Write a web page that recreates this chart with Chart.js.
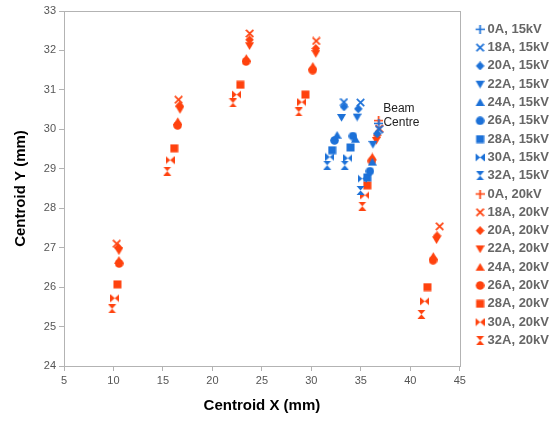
<!DOCTYPE html>
<html lang="en">
<head>
<meta charset="UTF-8">
<title>Beam centroid</title>
<script src="https://cdn.jsdelivr.net/npm/chart.js"></script>
<style>
  html, body { margin: 0; padding: 0; background: #fff; }
  #wrap { width: 557px; height: 421px; }
</style>
</head>
<body>
<div id="wrap"><canvas id="chart"></canvas></div>
<script>
// magnet currents, one series per current and voltage
const currents = ['0A', '18A', '20A', '22A', '24A', '26A', '28A', '30A', '32A'];

// 15kV: 0A is the beam centre, the rest have three positions
const x15 = [
  [36.83],
  [33.29, 34.97, 36.85],
  [33.30, 34.74, 36.66],
  [33.05, 34.63, 36.22],
  [32.60, 34.45, 36.16],
  [32.34, 34.20, 35.92],
  [32.10, 33.96, 35.65],
  [31.86, 33.69, 35.15],
  [31.60, 33.38, 34.97]
];
const y15 = [
  [30.15],
  [30.69, 30.68, 30.00],
  [30.57, 30.52, 29.89],
  [30.30, 30.31, 29.62],
  [29.85, 29.75, 29.17],
  [29.72, 29.83, 28.94],
  [29.47, 29.54, 28.78],
  [29.30, 29.27, 28.75],
  [29.09, 29.09, 28.45]
];

// 20kV: 0A is the beam centre, the rest have six positions
const x20 = [
  [36.80],
  [10.33, 16.58, 23.77, 30.49, 36.85, 42.97],
  [10.50, 16.68, 23.75, 30.45, 36.65, 42.70],
  [10.55, 16.72, 23.75, 30.45, 36.56, 42.65],
  [10.55, 16.50, 23.42, 30.15, 36.16, 42.32],
  [10.57, 16.48, 23.40, 30.13, 36.12, 42.30],
  [10.40, 16.14, 22.82, 29.40, 35.65, 41.73],
  [10.13, 15.73, 22.45, 29.03, 35.41, 41.46],
  [9.86, 15.43, 22.08, 28.73, 35.15, 41.12]
];
const y20 = [
  [30.22],
  [27.10, 30.75, 32.43, 32.24, 30.02, 27.54],
  [27.00, 30.60, 32.27, 32.05, 29.85, 27.30],
  [26.92, 30.50, 32.12, 31.92, 29.72, 27.20],
  [26.68, 30.20, 31.80, 31.60, 29.30, 26.78],
  [26.60, 30.10, 31.72, 31.50, 29.20, 26.68],
  [26.07, 29.52, 31.13, 30.88, 28.58, 26.00],
  [25.72, 29.22, 30.88, 30.69, 28.33, 25.64],
  [25.45, 28.94, 30.67, 30.44, 28.05, 25.31]
];

const xRange = [5, 45];
const yRange = [24, 33];

const BLUE = '#1c71d8';
const ORANGE = '#ff420e';
const shapes = ['plus', 'x', 'diamond', 'triDown', 'triUp', 'circle', 'square', 'bowtie', 'hourglass'];

Chart.defaults.font.family = '"Liberation Sans", Arial, sans-serif';

// small symbol images, shift moves the symbol right (used for the legend)
function makeMarker(shape, color, shift) {
  const s = 9;
  const c = document.createElement('canvas');
  c.width = s + 2 * shift;
  c.height = s;
  const g = c.getContext('2d');
  g.translate(2 * shift, 0);
  g.fillStyle = color;
  g.strokeStyle = color;
  g.lineWidth = 1.7;
  g.beginPath();
  switch (shape) {
    case 'plus':
      g.moveTo(4.5, 0); g.lineTo(4.5, 9);
      g.moveTo(0, 4.5); g.lineTo(9, 4.5);
      g.stroke();
      return c;
    case 'x':
      g.moveTo(0.8, 0.8); g.lineTo(8.2, 8.2);
      g.moveTo(8.2, 0.8); g.lineTo(0.8, 8.2);
      g.stroke();
      return c;
    case 'diamond':
      g.moveTo(4.5, 0); g.lineTo(8.8, 4.5); g.lineTo(4.5, 9); g.lineTo(0.2, 4.5);
      break;
    case 'triDown':
      g.moveTo(0, 1); g.lineTo(9, 1); g.lineTo(4.5, 8.8);
      break;
    case 'triUp':
      g.moveTo(4.5, 0.2); g.lineTo(9, 8); g.lineTo(0, 8);
      break;
    case 'circle':
      g.arc(4.5, 4.5, 4.3, 0, Math.PI * 2);
      break;
    case 'square':
      g.rect(0.5, 0.5, 8, 8);
      break;
    case 'bowtie':
      g.moveTo(0, 0.5); g.lineTo(9, 8.5); g.lineTo(9, 0.5); g.lineTo(0, 8.5);
      break;
    case 'hourglass':
      g.moveTo(0.5, 0); g.lineTo(8.5, 0); g.lineTo(0.5, 9); g.lineTo(8.5, 9);
      break;
  }
  g.closePath();
  g.fill();
  return c;
}

const datasets = [];
[[x15, y15, '15kV', BLUE], [x20, y20, '20kV', ORANGE]].forEach(([xs, ys, kv, color]) => {
  currents.forEach((cur, i) => {
    datasets.push({
      label: cur + ', ' + kv,
      data: xs[i].map((x, j) => ({ x: x, y: ys[i][j] })),
      pointStyle: makeMarker(shapes[i], color, 0),
      legendMarker: makeMarker(shapes[i], color, 7),
      pointRadius: 5,
      backgroundColor: color,
      borderColor: color,
      showLine: false
    });
  });
});

// grey box round the plot and the beam centre note
const extras = {
  id: 'extras',
  beforeDatasetsDraw(chart) {
    const a = chart.chartArea, ctx = chart.ctx;
    ctx.save();
    ctx.strokeStyle = '#b3b3b3';
    ctx.lineWidth = 1;
    ctx.strokeRect(Math.round(a.left) + 0.5, Math.round(a.top) + 0.5,
      Math.round(a.right - a.left), Math.round(a.bottom - a.top));
    ctx.restore();
  },
  afterDatasetsDraw(chart) {
    const ctx = chart.ctx, sx = chart.scales.x, sy = chart.scales.y;
    ctx.save();
    ctx.fillStyle = '#222';
    ctx.font = '12px "Liberation Sans", Arial, sans-serif';
    ctx.textAlign = 'center';
    ctx.textBaseline = 'middle';
    ctx.fillText('Beam', sx.getPixelForValue(38.85), sy.getPixelForValue(30.53));
    ctx.fillText('Centre', sx.getPixelForValue(39.1), sy.getPixelForValue(30.17));
    ctx.restore();
  }
};

new Chart(document.getElementById('chart'), {
  type: 'scatter',
  data: { datasets: datasets },
  options: {
    responsive: true,
    maintainAspectRatio: false,
    animation: false,
    layout: { padding: { top: 11, left: 0, right: -2, bottom: 0 } },
    scales: {
      x: {
        type: 'linear',
        min: xRange[0],
        max: xRange[1],
        afterFit: s => { s.height = 55; },
        ticks: { stepSize: 5, color: '#555', font: { size: 11 }, padding: 3 },
        grid: { drawOnChartArea: false, drawTicks: true, tickLength: 5, color: '#b3b3b3' },
        border: { color: '#b3b3b3' },
        title: { display: true, text: 'Centroid X (mm)', color: '#000',
                 font: { size: 15, weight: 'bold' }, padding: { top: 4, bottom: 6 } }
      },
      y: {
        type: 'linear',
        min: yRange[0],
        max: yRange[1],
        afterFit: s => { s.width = 64; },
        ticks: { stepSize: 1, color: '#555', font: { size: 11 }, padding: 3 },
        grid: { drawOnChartArea: false, drawTicks: true, tickLength: 5, color: '#b3b3b3' },
        border: { color: '#b3b3b3' },
        title: { display: true, text: 'Centroid Y (mm)', color: '#000',
                 font: { size: 15, weight: 'bold' }, padding: { top: 12, bottom: 4 } }
      }
    },
    plugins: {
      tooltip: { enabled: false },
      legend: {
        position: 'right',
        align: 'start',
        title: { display: true, text: ' ', font: { size: 5, lineHeight: 1 }, padding: 0.75 },
        labels: {
          usePointStyle: true,
          pointStyleWidth: 16,
          boxHeight: 9,
          padding: 5.3,
          color: '#222',
          font: { size: 13, weight: 'bold' },
          generateLabels: chart => chart.data.datasets.map((ds, i) => ({
            text: ds.label,
            pointStyle: ds.legendMarker,
            fillStyle: ds.backgroundColor,
            strokeStyle: ds.borderColor,
            lineWidth: 0,
            hidden: false,
            rotation: 0,
            datasetIndex: i
          }))
        }
      }
    }
  },
  plugins: [extras]
});
</script>
</body>
</html>
